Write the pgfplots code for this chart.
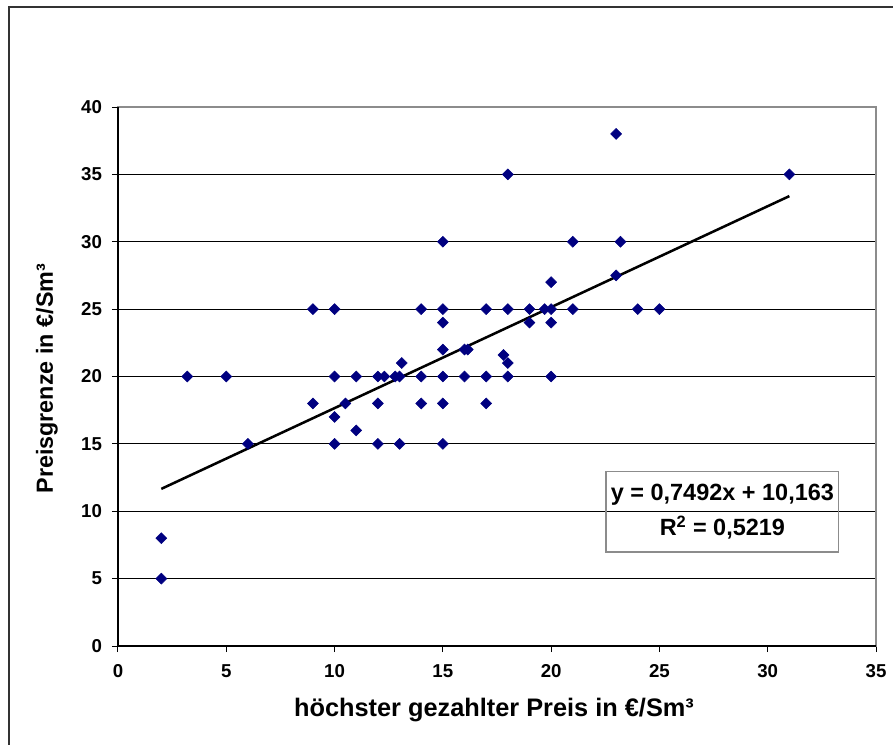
\documentclass[border=0pt]{standalone}
\usepackage{pgfplots}
\pgfplotsset{compat=1.18}
\usepackage{fontspec}
\setmainfont{Liberation Sans}
\definecolor{navy}{RGB}{0,0,128}
\definecolor{axgray}{RGB}{140,140,140}
\begin{document}
\begin{tikzpicture}[x=0.75pt,y=0.75pt]
\useasboundingbox (-118,-98) rectangle (775,646);
\draw[black!80, line width=1.5pt] (-109,-300) rectangle (900,639);
\begin{axis}[
  at={(0,0)}, anchor=south west, scale only axis,
  width=568.5pt, height=404.25pt,
  xmin=0, xmax=35, ymin=0, ymax=40,
  xtick={0,5,...,35}, ytick={0,5,...,35},
  extra y ticks={40}, extra y tick style={grid=none},
  ymajorgrids, grid style={black, line width=0.75pt},
  axis line style={draw=axgray, line width=1pt},
  tick align=outside, xtick pos=left, ytick pos=left,
  major tick length=4.5pt,
  tick style={black, line width=0.75pt},
  /pgf/number format/assume math mode=true,
  ticklabel style={font=\bfseries\fontsize{14}{16}\selectfont},
  yticklabel style={xshift=-4pt},
  xticklabel style={yshift=-6pt},
  xlabel={höchster gezahlter Preis in €/Sm³},
  ylabel={Preisgrenze in €/Sm³},
  x label style={font=\bfseries\fontsize{19}{22}\selectfont, at={(axis description cs:0.496,-0.1317)}, anchor=base},
  y label style={font=\bfseries\fontsize{17.5}{21}\selectfont, at={(axis description cs:-0.0937,0.496)}, anchor=center},
  clip=false,
]
\addplot[only marks, mark=square*, mark size=2.9pt, mark options={rotate=45, fill=navy, draw=navy}] coordinates {
(2,8) (2,5) (3.2,20) (5,20) (6,15) (9,25) (9,18) (10,25) (10,20) (10,17) (10,15)
(10.5,18) (11,20) (11,16) (12,20) (12,18) (12,15) (12.3,20) (12.8,20) (13,20) (13.1,21)
(13,15) (14,25) (14,20) (14,18) (15,30) (15,25) (15,24) (15,22) (15,20) (15,18) (15,15)
(16,22) (16.15,22) (16,20) (17,25) (17,20) (17,18) (17.8,21.6) (18,21) (18,20) (18,35)
(18,25) (19,25) (19,24) (19.7,25) (20,25) (20,27) (20,24) (20,20) (21,30) (21,25)
(23,38) (23.2,30) (23,27.5) (24,25) (25,25) (31,35)
};
\addplot[black, line width=1.9pt, no marks] coordinates {(2,11.6614) (31,33.3882)};
\draw[black, line width=0.8pt] (rel axis cs:0,1) -- (rel axis cs:0,0) -- (rel axis cs:1,0);
\end{axis}
\node[draw=axgray, line width=0.9pt, minimum width=174.5pt, minimum height=60.2pt, align=center, font=\bfseries\fontsize{17.6}{26}\selectfont, inner sep=0pt] at (604.4,134.1) {y = 0,7492x + 10,163\\R\textsuperscript{2} = 0,5219};
\end{tikzpicture}
\end{document}
